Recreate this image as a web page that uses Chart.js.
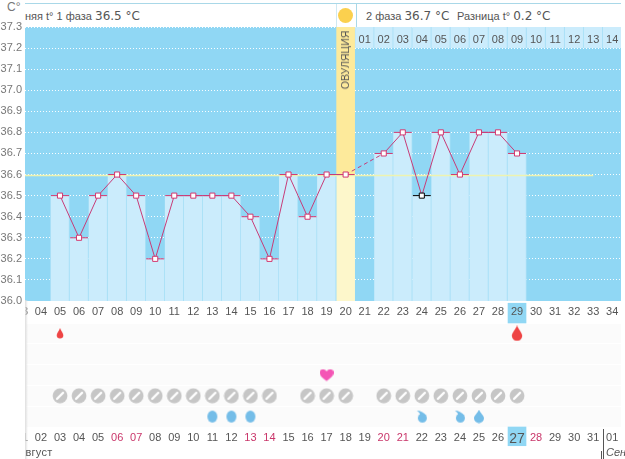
<!DOCTYPE html>
<html>
<head>
<meta charset="utf-8">
<script src="https://cdn.jsdelivr.net/npm/chart.js@4/dist/chart.umd.min.js"></script>
<style>
  html, body { margin: 0; padding: 0; background: #fff; }
  body { width: 625px; height: 459px; position: relative; overflow: hidden; font-family: "Liberation Sans", sans-serif; color: #555; }
  div.abs, span.abs { position: absolute; white-space: nowrap; }
  #header { left: 25px; top: 3px; width: 596px; height: 24px; border-top: 1px solid #a9d8e8; box-sizing: border-box; background: #fff; overflow: hidden; }
  #header span { position: absolute; top: 5px; font-size: 11px; white-space: nowrap; }
  #header b { font: normal 12px "DejaVu Sans", sans-serif; }
  #top { position: absolute; left: 0; top: 0; }
  #lowerWrap { position: absolute; left: 25px; top: 302px; width: 600px; height: 157px; overflow: hidden; }
</style>
</head>
<body>
<div class="abs" style="left:7px;top:0;font:12px 'Liberation Sans';color:#777">C°</div>
<div class="abs" id="header">
  <span style="left:0">няя t° 1 фаза <b>36.5 °C</b></span>
  <div class="abs" style="left:311px;top:0;width:1px;height:23px;background:#cfe9f3"></div>
  <div class="abs" style="left:331px;top:0;width:1px;height:23px;background:#a9d8e8"></div>
  <div class="abs" style="left:313px;top:4px;width:15px;height:15px;border-radius:50%;background:#fbd04e"></div>
  <span style="left:341px">2 фаза <b>36.7 °C</b></span>
  <span style="left:432px">Разница t° <b>0.2 °C</b></span>
</div>
<canvas id="top" width="625" height="311"></canvas>
<div class="abs" style="left:345px;top:60px;transform:translate(-50%,-50%) rotate(-90deg);font-size:10.5px;color:#555">ОВУЛЯЦИЯ</div>
<div id="lowerWrap"><canvas id="lower" width="600" height="157"></canvas></div>
<div class="abs" style="left:25px;top:300px;width:3px;height:159px;background:linear-gradient(to right,#ddd,rgba(255,255,255,0))"></div>
<div class="abs" style="left:25px;top:446px;width:40px;height:13px;overflow:hidden"><span class="abs" style="left:-6px;top:0;font-size:11px;letter-spacing:.3px">август</span></div>
<div class="abs" style="left:603px;top:429px;width:1px;height:30px;background:#555"></div>
<div class="abs" style="left:601px;top:451px;width:1px;height:8px;background:#555"></div>
<div class="abs" style="left:606px;top:446px;width:19px;height:13px;overflow:hidden"><span class="abs" style="left:0;top:0;font-size:11px;font-style:italic">Сентябрь</span></div>
<script>
// Данные графика
const tempDays = [5, 6, 7, 8, 9, 10, 11, 12, 13, 14, 15, 16, 17, 18, 19, 20, 22, 23, 24, 25, 26, 27, 28, 29];
const temps = [36.5, 36.3, 36.5, 36.6, 36.5, 36.2, 36.5, 36.5, 36.5, 36.5, 36.4, 36.2, 36.6, 36.4, 36.6, 36.6, 36.7, 36.8, 36.5, 36.8, 36.6, 36.8, 36.8, 36.7];
const ovulationDay = 20;
const coverTemp = 36.6;
const coverEndDay = 33;
const todayCycleDay = 29;
const excludedDay = 24; // отмечен черным

const cycleDays = [3, 4, 5, 6, 7, 8, 9, 10, 11, 12, 13, 14, 15, 16, 17, 18, 19, 20, 21, 22, 23, 24, 25, 26, 27, 28, 29, 30, 31, 32, 33, 34];
const dateLabels = ['01', '02', '03', '04', '05', '06', '07', '08', '09', '10', '11', '12', '13', '14', '15', '16', '17', '18', '19', '20', '21', '22', '23', '24', '25', '26', '27', '28', '29', '30', '31', '01'];
const redDates = [6, 7, 13, 14, 20, 21, 28];
const phase2Days = [21, 22, 23, 24, 25, 26, 27, 28, 29, 30, 31, 32, 33, 34];
const phase2Labels = ['01', '02', '03', '04', '05', '06', '07', '08', '09', '10', '11', '12', '13', '14'];

const pillDays = [5, 6, 7, 8, 9, 10, 11, 12, 13, 14, 15, 16, 18, 19, 20, 22, 23, 24, 25, 26, 27, 28, 29];
const eggDays = [13, 14, 15];
const hookDays = [24, 26];
const dropDays = [27];
const heartDays = [19];
const smallBloodDays = [5];
const bigBloodDays = [29];

const X_MIN = 3.162, X_MAX = 34.46;
const sky = '#90d7f4', pale = '#cbecfc', seam = '#a6dff6';
const labelFont = { family: 'Liberation Sans', size: 11 };

// Рисует значок в отдельном canvas для pointStyle
function icon(w, h, draw) {
  const c = document.createElement('canvas');
  c.width = w; c.height = h;
  draw(c.getContext('2d'));
  return c;
}
function dropPath(ctx, cx, top, r, bottom, fill) {
  ctx.fillStyle = fill;
  ctx.beginPath();
  ctx.moveTo(cx, top);
  ctx.bezierCurveTo(cx + 1, top + 3, cx + r, bottom - r * 1.5, cx + r, bottom - r);
  ctx.arc(cx, bottom - r, r, 0, Math.PI);
  ctx.bezierCurveTo(cx - r, bottom - r * 1.5, cx - 1, top + 3, cx, top);
  ctx.fill();
}
const pillIcon = icon(16, 16, ctx => {
  ctx.fillStyle = '#c6c6c6';
  ctx.beginPath(); ctx.arc(8, 8, 7.4, 0, Math.PI * 2); ctx.fill();
  ctx.strokeStyle = '#fff'; ctx.lineWidth = 2.4; ctx.lineCap = 'round';
  ctx.beginPath(); ctx.moveTo(5, 11); ctx.lineTo(11, 5); ctx.stroke();
});
const eggIcon = icon(12, 14, ctx => {
  ctx.fillStyle = '#74bde8';
  ctx.beginPath(); ctx.ellipse(6, 7, 5, 6, 0, 0, Math.PI * 2); ctx.fill();
});
const hookIcon = icon(12, 14, ctx => {
  ctx.fillStyle = '#74bde8';
  ctx.beginPath(); ctx.arc(6.5, 8.5, 4.5, 0, Math.PI * 2); ctx.fill();
  ctx.beginPath(); ctx.moveTo(1, 1); ctx.quadraticCurveTo(6, 1, 10.5, 6); ctx.lineTo(5, 6); ctx.quadraticCurveTo(4, 3, 1, 1); ctx.fill();
});
const dropIcon = icon(12, 14, ctx => dropPath(ctx, 6, 0, 5, 13.5, '#74bde8'));
const smallBloodIcon = icon(8, 11, ctx => dropPath(ctx, 4, 0, 3.3, 10.5, '#ee4444'));
const bigBloodIcon = icon(12, 16, ctx => dropPath(ctx, 6, 0, 5.2, 15.5, '#ee4444'));
const heartIcon = icon(14, 13, ctx => {
  ctx.fillStyle = '#f455b5';
  ctx.beginPath();
  ctx.moveTo(7, 12.5);
  ctx.bezierCurveTo(2, 9, 0, 7, 0, 4);
  ctx.bezierCurveTo(0, 0.5, 5, -0.5, 7, 3);
  ctx.bezierCurveTo(9, -0.5, 14, 0.5, 14, 4);
  ctx.bezierCurveTo(14, 7, 12, 9, 7, 12.5);
  ctx.fill();
});

// Заливка области графика
const areaFill = {
  id: 'areaFill',
  beforeDraw(chart, args, opts) {
    const a = chart.chartArea, ctx = chart.ctx;
    ctx.save();
    ctx.fillStyle = opts.color;
    ctx.fillRect(a.left, a.top, a.width, a.bottom - a.top);
    ctx.restore();
  }
};

// Подписи у краев не должны сдвигать область графика
function fitAxis(height) {
  return s => {
    s.height = height;
    s.paddingLeft = 0;
    s.paddingRight = 0;
  };
}

const tempPoints = tempDays.map((d, i) => ({ x: d, y: temps[i] }));
const barDays = tempDays.filter(d => d !== ovulationDay);
const seamBorder = { top: 0, left: 0, bottom: 0, right: 1 };

new Chart(document.getElementById('top'), {
  data: {
    datasets: [
      // отметки значений поверх всего
      {
        type: 'scatter', order: 1, data: tempPoints, showLine: false,
        pointStyle: 'rect', pointRadius: 3.6,
        pointBackgroundColor: '#fff',
        pointBorderColor: tempDays.map(d => d === excludedDay ? '#000' : '#d2386f'),
        pointBorderWidth: 1
      },
      {
        type: 'line', order: 2, data: tempPoints, fill: false, pointRadius: 0,
        borderColor: '#c83c78', borderWidth: 1, tension: 0,
        segment: { borderDash: c => c.p1.parsed.x - c.p0.parsed.x > 1 ? [4, 3] : undefined }
      },
      {
        type: 'scatter', order: 3, data: tempPoints, showLine: false,
        pointStyle: 'line', pointRadius: 9,
        pointBorderColor: tempDays.map(d => d === excludedDay ? '#000' : '#d2386f'),
        pointBorderWidth: 1
      },
      {
        type: 'line', order: 4, data: [{ x: X_MIN, y: coverTemp - 0.004 }, { x: coverEndDay, y: coverTemp - 0.004 }],
        borderColor: '#eef3b0', borderWidth: 1.5, pointRadius: 0
      },
      {
        type: 'bar', order: 6, grouped: false, barThickness: 19, backgroundColor: pale,
        borderColor: seam, borderWidth: seamBorder,
        data: barDays.map(d => ({ x: d, y: temps[tempDays.indexOf(d)] }))
      },
      {
        type: 'bar', order: 7, grouped: false, barThickness: 18, backgroundColor: '#fdf7cb',
        data: [{ x: ovulationDay, y: coverTemp }]
      },
      {
        type: 'bar', order: 8, grouped: false, barThickness: 18, backgroundColor: '#fdea9b',
        data: [{ x: ovulationDay, y: [coverTemp, 37.3] }]
      },
      {
        type: 'bar', order: 9, grouped: false, barThickness: 19, backgroundColor: pale,
        borderColor: seam, borderWidth: seamBorder,
        data: phase2Days.map(d => ({ x: d, y: [37.2, 37.3] }))
      }
    ]
  },
  options: {
    responsive: false,
    animation: false,
    events: [],
    layout: { autoPadding: false, padding: { top: 27, right: 4, bottom: 10, left: 0 } },
    plugins: { legend: { display: false }, tooltip: { enabled: false }, areaFill: { color: sky } },
    scales: {
      x: { type: 'linear', offset: false, min: X_MIN, max: X_MAX, display: false },
      xPhase: {
        type: 'linear', position: 'top', offset: false, min: X_MIN, max: X_MAX,
        afterFit: fitAxis(0),
        afterBuildTicks: s => { s.ticks = phase2Days.map(d => ({ value: d })); },
        border: { display: false },
        grid: { display: false, drawTicks: false },
        ticks: {
          z: 1, mirror: true, autoSkip: false, maxRotation: 0, padding: 6, color: '#555', font: labelFont,
          callback: v => phase2Labels[phase2Days.indexOf(v)]
        }
      },
      y: {
        type: 'linear', min: 36, max: 37.3,
        afterFit: s => { s.width = 25; },
        border: { display: false, dash: [1, 2] },
        grid: { color: 'rgba(255,255,255,0.95)', drawTicks: false, lineWidth: 1 },
        ticks: { stepSize: 0.1, padding: 3, color: '#777', font: labelFont, callback: v => v.toFixed(1) }
      }
    }
  },
  plugins: [areaFill]
});

// Нижняя панель: значки по дням цикла, строки считаются сверху вниз
const row = (days, r) => days.map(d => ({ x: d, y: r }));
const iconSet = (days, r, style) => ({ type: 'scatter', order: 1, data: row(days, r), pointStyle: style, showLine: false });

new Chart(document.getElementById('lower'), {
  data: {
    datasets: [
      iconSet(smallBloodDays, 1, smallBloodIcon),
      iconSet(bigBloodDays, 1, bigBloodIcon),
      iconSet(heartDays, 3, heartIcon),
      iconSet(pillDays, 4, pillIcon),
      iconSet(eggDays, 5, eggIcon),
      iconSet(hookDays, 5, hookIcon),
      iconSet(dropDays, 5, dropIcon),
      {
        type: 'bar', order: 2, grouped: false, barThickness: 18, clip: false, backgroundColor: sky,
        data: [{ x: todayCycleDay, y: [-0.45, 0.5] }, { x: todayCycleDay, y: [5.5, 6.4] }]
      }
    ]
  },
  options: {
    responsive: false,
    animation: false,
    events: [],
    layout: { autoPadding: false, padding: { top: 0, right: 4, bottom: 0, left: 0 } },
    plugins: { legend: { display: false }, tooltip: { enabled: false }, areaFill: { color: '#fbfbfb' } },
    scales: {
      xCycle: {
        type: 'linear', position: 'top', offset: false, min: X_MIN, max: X_MAX,
        afterFit: fitAxis(21),
        afterBuildTicks: s => { s.ticks = cycleDays.map(d => ({ value: d })); },
        border: { display: false },
        grid: { display: false, drawTicks: false },
        ticks: {
          z: 1, autoSkip: false, maxRotation: 0, padding: 4, color: '#555', font: labelFont,
          callback: v => String(v).padStart(2, '0')
        }
      },
      x: {
        type: 'linear', position: 'bottom', offset: false, min: X_MIN, max: X_MAX,
        afterFit: fitAxis(32),
        afterBuildTicks: s => { s.ticks = cycleDays.map(d => ({ value: d })); },
        border: { display: false },
        grid: { display: false, drawTicks: false },
        ticks: {
          z: 1, autoSkip: false, maxRotation: 0, padding: 4,
          font: c => c.tick && c.tick.value === todayCycleDay ? { family: 'Liberation Sans', size: 14 } : labelFont,
          color: c => {
            const lbl = dateLabels[cycleDays.indexOf(c.tick.value)];
            return redDates.includes(Number(lbl)) && c.tick.value !== 34 ? '#c9366a' : '#555';
          },
          callback: v => dateLabels[cycleDays.indexOf(v)]
        }
      },
      y: {
        type: 'linear', reverse: true, min: 0.5, max: 5.5, display: true,
        afterFit: s => { s.width = 0; },
        border: { display: false },
        grid: { color: '#ffffff', lineWidth: 1, drawTicks: false },
        ticks: { display: false, stepSize: 1 }
      }
    }
  },
  plugins: [areaFill]
});
</script>
</body>
</html>
